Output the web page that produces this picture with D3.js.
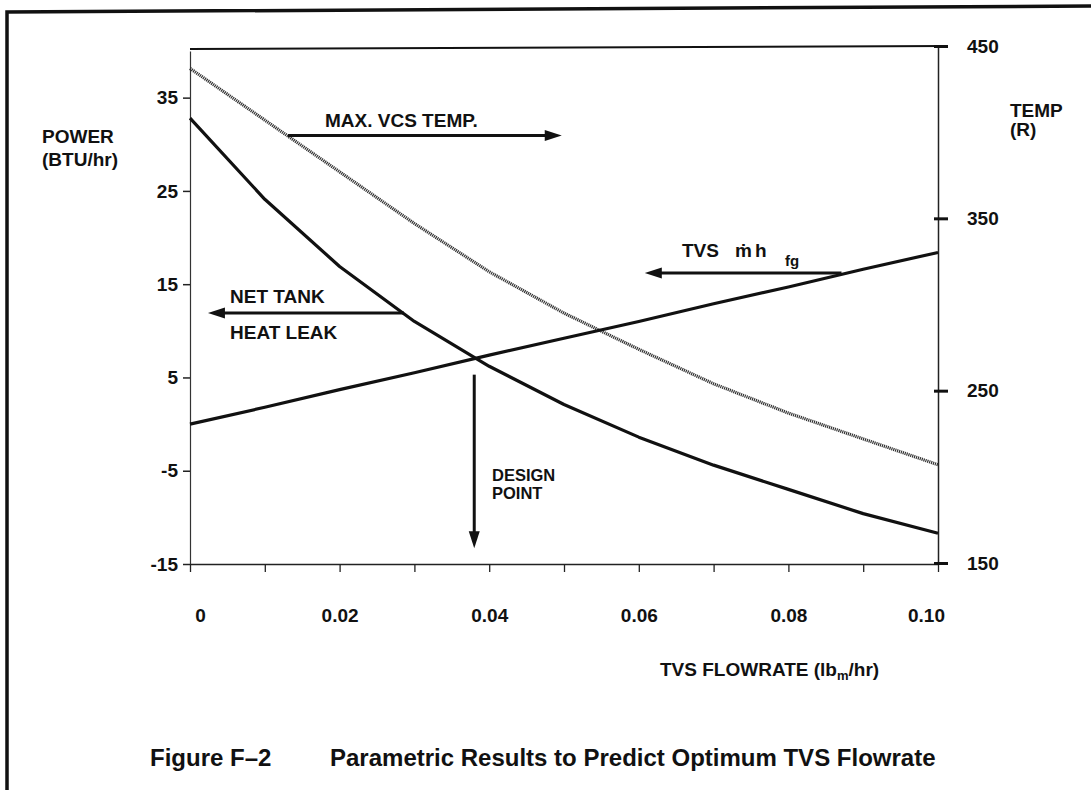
<!DOCTYPE html>
<html>
<head>
<meta charset="utf-8">
<script src="https://cdn.jsdelivr.net/npm/d3@7"></script>
<style>
  html, body { margin: 0; padding: 0; background: #fff; }
  svg { display: block; font-family: "Liberation Sans", Arial, Helvetica, sans-serif; font-weight: bold; }
</style>
</head>
<body>
<script>
// TVS flowrate (lbm/hr) at which each curve was evaluated
const flowrate = [0, 0.01, 0.02, 0.03, 0.04, 0.05, 0.06, 0.07, 0.08, 0.09, 0.10];
// Net tank heat leak (BTU/hr), left axis
const netTankHeatLeak = [32.8, 24.1, 16.9, 11.0, 6.2, 2.1, -1.4, -4.4, -7.0, -9.6, -11.7];
// TVS m-dot * h_fg (BTU/hr), left axis
const tvsMhfg = [0, 1.8, 3.7, 5.5, 7.4, 9.2, 11.0, 12.9, 14.7, 16.6, 18.4];
// Maximum VCS temperature (R), right axis
const maxVcsTemp = [437, 407, 377, 347, 319, 295, 274, 254, 237, 222, 207];
// Chosen design flowrate
const designPoint = 0.038;

// Axis ticks
const xTicks = [0, 0.01, 0.02, 0.03, 0.04, 0.05, 0.06, 0.07, 0.08, 0.09, 0.10];
const xTickLabels = ["0", "", "0.02", "", "0.04", "", "0.06", "", "0.08", "", "0.10"];
const powerTicks = [-15, -5, 5, 15, 25, 35];
const tempTicks = [150, 250, 350, 450];

const W = 1091, H = 790;
const svg = d3.select("body").append("svg").attr("width", W).attr("height", H);
svg.append("rect").attr("width", W).attr("height", H).attr("fill", "#fff");

const x = d3.scaleLinear().domain([0, 0.10]).range([190, 938]);
const yL = d3.scaleLinear().domain([-15, 40]).range([564, 51]);
const yR = d3.scaleLinear().domain([150, 450]).range([563, 46]);

// outer page frame (top and left edges)
svg.append("path").attr("d", "M7,790 L7,12 L1091,6")
  .attr("fill", "none").attr("stroke", "#111").attr("stroke-width", 3.5);

// top edge of the plot frame
svg.append("line")
  .attr("x1", x(0)).attr("y1", 49).attr("x2", x(0.10) + 10).attr("y2", 46)
  .attr("stroke", "#111").attr("stroke-width", 2);

const fontSize = 19;

// left (power) axis
const gL = svg.append("g").attr("transform", `translate(${x(0)},0)`)
  .call(d3.axisLeft(yL).tickValues(powerTicks).tickSize(7).tickSizeOuter(0).tickPadding(5).tickFormat(d => String(d)));
gL.select(".domain").attr("stroke", "#333").attr("stroke-width", 1.2);
gL.selectAll(".tick line").attr("stroke", "#222").attr("stroke-width", 1.5);
gL.selectAll(".tick text").attr("font-size", fontSize).attr("fill", "#111").attr("font-family", null);

// bottom (flowrate) axis
const gB = svg.append("g").attr("transform", `translate(0,${yL(-15)})`)
  .call(d3.axisBottom(x).tickValues(xTicks).tickSize(8).tickSizeOuter(0).tickPadding(37).tickFormat((d, i) => xTickLabels[i]));
gB.select(".domain").attr("stroke", "#222").attr("stroke-width", 1.5);
gB.selectAll(".tick line").attr("stroke", "#222").attr("stroke-width", 1.3);
gB.selectAll(".tick text").attr("font-size", fontSize).attr("fill", "#111").attr("font-family", null)
  .attr("dx", (d, i) => i === 0 ? 10 : (i === xTicks.length - 1 ? -12 : 0));

// right (temperature) axis, running a little below the last tick
const gR = svg.append("g").attr("transform", `translate(${x(0.10)},0)`)
  .call(d3.axisRight(yR).tickValues(tempTicks).tickSize(10).tickSizeOuter(0).tickPadding(19));
gR.select(".domain").attr("stroke", "#222").attr("stroke-width", 1.5);
gR.selectAll(".tick line").attr("x1", -4).attr("stroke", "#111").attr("stroke-width", 3);
gR.selectAll(".tick text").attr("font-size", fontSize).attr("fill", "#111").attr("font-family", null);

// curves
const lineL = vals => d3.line().x((d, i) => x(flowrate[i])).y(d => yL(d))(vals);
const lineR = vals => d3.line().x((d, i) => x(flowrate[i])).y(d => yR(d))(vals);

svg.append("path").attr("d", lineR(maxVcsTemp))
  .attr("fill", "none").attr("stroke", "#333").attr("stroke-width", 3.2)
  .attr("stroke-dasharray", "1.2 0.8");
svg.append("path").attr("d", lineL(netTankHeatLeak))
  .attr("fill", "none").attr("stroke", "#111").attr("stroke-width", 3.2).attr("stroke-linejoin", "round");
svg.append("path").attr("d", lineL(tvsMhfg))
  .attr("fill", "none").attr("stroke", "#111").attr("stroke-width", 3.2);

// annotation arrows: shaft plus a filled head
function arrow(x1, y1, x2, y2) {
  const len = 17, half = 5.5;
  const dx = x2 - x1, dy = y2 - y1, d = Math.hypot(dx, dy);
  const ux = dx / d, uy = dy / d;
  const bx = x2 - ux * len, by = y2 - uy * len;
  svg.append("line").attr("x1", x1).attr("y1", y1).attr("x2", bx + ux * 2).attr("y2", by + uy * 2)
    .attr("stroke", "#111").attr("stroke-width", 3);
  svg.append("path")
    .attr("d", `M${x2},${y2} L${bx - uy * half},${by + ux * half} L${bx + uy * half},${by - ux * half} Z`)
    .attr("fill", "#111");
}
arrow(x(0.0131), yR(398), x(0.0497), yR(398));
arrow(x(0.0286), yL(11.9), x(0.0024), yL(11.9));
arrow(x(0.0871), yL(16.2), x(0.0608), yL(16.2));
arrow(x(designPoint), yL(5.3), x(designPoint), yL(-13.3));

// text labels
function label(tx, ty, str, size) {
  return svg.append("text").attr("x", tx).attr("y", ty).attr("font-size", size || fontSize)
    .attr("fill", "#111").text(str);
}
label(42, 143, "POWER");
label(42, 166, "(BTU/hr)");
label(1010, 117, "TEMP");
label(1010, 136, "(R)");
label(325, 127, "MAX. VCS TEMP.");
label(230, 303, "NET TANK");
label(230, 339, "HEAT LEAK");
label(492, 480.5, "DESIGN", 16.5);
label(492, 499, "POINT", 16.5);

const mh = svg.append("text").attr("y", 257).attr("font-size", fontSize).attr("fill", "#111");
mh.append("tspan").attr("x", 682).text("TVS");
mh.append("tspan").attr("x", 735).text("\u1E41");
mh.append("tspan").attr("x", 755).text("h");
mh.append("tspan").attr("x", 785).attr("dy", 9).attr("font-size", 15).text("fg");

const xt = svg.append("text").attr("x", 660).attr("y", 676).attr("font-size", fontSize).attr("fill", "#111");
xt.append("tspan").text("TVS FLOWRATE (lb");
xt.append("tspan").attr("font-size", 13).attr("dy", 4).text("m");
xt.append("tspan").attr("dy", -4).text("/hr)");

label(150, 766, "Figure F\u20132", 24);
label(330, 766, "Parametric Results to Predict Optimum TVS Flowrate", 24);
</script>
</body>
</html>
